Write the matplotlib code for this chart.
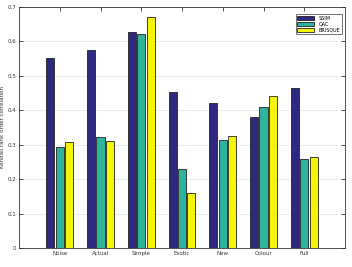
import numpy as np
import matplotlib
matplotlib.use("Agg")
import matplotlib.pyplot as plt

categories = ["Noise", "Actual", "Simple", "Exotic", "New", "Colour", "Full"]
ssim = [0.551, 0.576, 0.628, 0.454, 0.422, 0.381, 0.464]
qac = [0.294, 0.322, 0.622, 0.229, 0.313, 0.409, 0.258]
brisque = [0.309, 0.312, 0.672, 0.161, 0.326, 0.441, 0.263]
series = {"SSIM": ssim, "QAC": qac, "BRISQUE": brisque}
colors = ["#2f287f", "#2fb39c", "#f5f50a"]

fig = plt.figure(figsize=(3.52, 2.67), dpi=100)
ax = fig.add_axes([19 / 352, 1 - 248 / 267, 326 / 352, 241 / 267])

x = np.arange(1, len(categories) + 1)
width = 0.2
step = 0.23
for i, (name, vals) in enumerate(series.items()):
    ax.bar(x + (i - 1) * step, vals, width, color=colors[i], edgecolor="#222222",
           linewidth=0.6, label=name, zorder=3)

ax.set_xlim(0, 8)
ax.set_ylim(0, 0.7)
ax.set_xticks(x)
ax.set_xticklabels(categories)
ax.set_yticks(np.arange(0, 0.71, 0.1))
ax.set_yticklabels(["0", "0.1", "0.2", "0.3", "0.4", "0.5", "0.6", "0.7"])
ax.tick_params(direction="in", top=True, right=True, labelsize=4, length=3,
               width=0.6, colors="#333333", pad=2)
ax.grid(axis="y", color="#e6e6e6", linewidth=0.6, zorder=0)
for s in ax.spines.values():
    s.set_linewidth(0.6)
    s.set_color("#333333")
ax.set_ylabel("Kendall rank order correlation", fontsize=4, labelpad=2, color="#333333")

leg = ax.legend(loc="upper right", fontsize=3.5, fancybox=False, edgecolor="#333333",
                handlelength=3.5, handleheight=1.0, borderpad=0.3, labelspacing=0.2,
                bbox_to_anchor=(0.997, 0.98))
leg.get_frame().set_linewidth(0.6)

fig.savefig("out.png", dpi=100)
